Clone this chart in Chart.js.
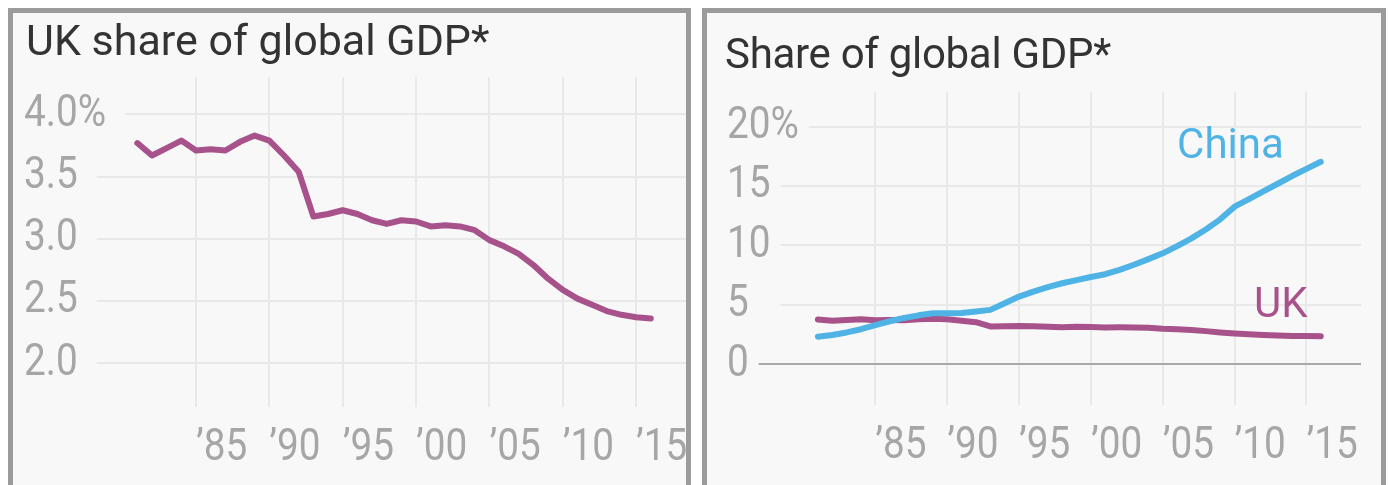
<!DOCTYPE html>
<html>
<head>
<meta charset="utf-8">
<script src="https://cdn.jsdelivr.net/npm/chart.js@4.4.1/dist/chart.umd.min.js"></script>
<style>
  html, body { margin: 0; padding: 0; background: #ffffff; }
  body { width: 1388px; height: 485px; overflow: hidden; position: relative; }
  .panel {
    position: absolute; top: 8px; height: 490px; box-sizing: border-box;
    border: 5px solid #9b9b9b; background: #f8f8f8;
  }
  #panelUK { left: 8px; width: 683px; }
  #panelCompare { left: 702px; width: 684px; }
  .panel canvas { position: absolute; left: 0; top: 0; }
  .title {
    position: absolute; margin: 0; white-space: nowrap;
    font-family: Roboto, 'Liberation Sans', sans-serif; font-weight: 400;
    color: #333333; line-height: 1;
  }
  #titleUK { left: 13px; top: 6px; font-size: 43px; }
  #titleCompare { left: 18px; top: 20px; font-size: 42px; letter-spacing: -0.3px; }
</style>
</head>
<body>
<div class="panel" id="panelUK">
  <canvas id="chartUK" width="673" height="472"></canvas>
  <div class="title" id="titleUK">UK share of global GDP*</div>
</div>
<div class="panel" id="panelCompare">
  <canvas id="chartCompare" width="674" height="472"></canvas>
  <div class="title" id="titleCompare">Share of global GDP*</div>
</div>
<script>
// Years covered by both series
const years = [1981, 1982, 1983, 1984, 1985, 1986, 1987, 1988, 1989, 1990,
               1991, 1992, 1993, 1994, 1995, 1996, 1997, 1998, 1999, 2000,
               2001, 2002, 2003, 2004, 2005, 2006, 2007, 2008, 2009, 2010,
               2011, 2012, 2013, 2014, 2015, 2016];

// Share of global GDP, percent
const ukShare = [3.77, 3.67, 3.73, 3.79, 3.71, 3.72, 3.71, 3.78, 3.83, 3.79,
                 3.67, 3.54, 3.18, 3.20, 3.23, 3.20, 3.15, 3.12, 3.15, 3.14,
                 3.10, 3.11, 3.10, 3.07, 2.99, 2.94, 2.88, 2.79, 2.68, 2.59,
                 2.52, 2.47, 2.42, 2.39, 2.37, 2.36];
const chinaShare = [2.32, 2.47, 2.68, 2.95, 3.30, 3.62, 3.90, 4.12, 4.29, 4.29,
                    4.32, 4.45, 4.58, 5.13, 5.70, 6.12, 6.50, 6.82, 7.08, 7.35,
                    7.58, 7.95, 8.38, 8.85, 9.34, 9.95, 10.60, 11.35, 12.20, 13.27,
                    13.90, 14.55, 15.20, 15.85, 16.45, 17.05];

// Axis ticks
const xTickYears = [1985, 1990, 1995, 2000, 2005, 2010, 2015];
const xTickLabels = ['\u201985', '\u201990', '\u201995', '\u201900', '\u201905', '\u201910', '\u201915'];
const ukTickValues = [2.0, 2.5, 3.0, 3.5, 4.0];
const ukTickLabels = ['2.0', '2.5', '3.0', '3.5', '4.0%'];
const cmpTickValues = [0, 5, 10, 15, 20];
const cmpTickLabels = ['0', '5', '10', '15', '20%'];

const UK_COLOR = '#a8528b';
const CHINA_COLOR = '#4fb3e6';
const TICK_COLOR = '#a6a6a6';
const GRID_COLOR = '#e9e9e9';
const TICK_FONT = "400 45px Roboto, 'Liberation Sans', sans-serif";
const TICK_SQUEEZE = 0.86;   // narrow grotesque look for axis numbers

const toPoints = (vals) => years.map((yr, i) => ({ x: yr, y: vals[i] }));

function squeezedText(ctx, text, x, y) {
  ctx.save();
  ctx.translate(x, y);
  ctx.scale(TICK_SQUEEZE, 1);
  ctx.fillText(text, 0, 0);
  ctx.restore();
}

// Axis numbers and horizontal rules: labels flush left, rules start just after them;
// year labels start at their vertical rule.
const axisText = {
  id: 'axisText',
  beforeDatasetsDraw(chart, args, opts) {
    const { ctx, chartArea, scales } = chart;
    const x = scales.x, y = scales.y;
    ctx.save();
    ctx.font = TICK_FONT;
    const widths = opts.labels.map(l => ctx.measureText(l).width * TICK_SQUEEZE);
    const top = opts.values.length - 1;
    const midW = Math.max(...widths.filter((w, i) => i > 0 && i < top));
    ctx.lineWidth = 2;
    opts.values.forEach((v, i) => {
      const py = Math.round(y.getPixelForValue(v));
      let startX;
      if (v === opts.baseline) {
        startX = opts.x + widths[i] + opts.gap;
        ctx.strokeStyle = opts.baselineColor;
      } else {
        startX = opts.x + (i === top ? widths[i] : midW) + opts.gap;
        ctx.strokeStyle = GRID_COLOR;
      }
      ctx.beginPath();
      ctx.moveTo(startX, py);
      ctx.lineTo(chartArea.right, py);
      ctx.stroke();
    });
    ctx.fillStyle = TICK_COLOR;
    ctx.textAlign = 'left';
    ctx.textBaseline = 'middle';
    opts.values.forEach((v, i) => {
      squeezedText(ctx, opts.labels[i], opts.x, y.getPixelForValue(v));
    });
    xTickYears.forEach((yr, i) => {
      squeezedText(ctx, xTickLabels[i], x.getPixelForValue(yr), chartArea.bottom + opts.xLabelOffset);
    });
    ctx.restore();
  }
};

// Series names written next to their lines
const seriesNames = {
  id: 'seriesNames',
  afterDatasetsDraw(chart, args, opts) {
    if (!opts.items) return;
    const { ctx, scales } = chart;
    ctx.save();
    ctx.font = "400 42px Roboto, 'Liberation Sans', sans-serif";
    ctx.textAlign = 'left';
    ctx.textBaseline = 'alphabetic';
    opts.items.forEach(it => {
      ctx.fillStyle = it.color;
      ctx.fillText(it.text, scales.x.getPixelForValue(it.x), scales.y.getPixelForValue(it.y));
    });
    ctx.restore();
  }
};

function xScale(min, max) {
  return {
    type: 'linear', min: min, max: max,
    afterBuildTicks(scale) { scale.ticks = xTickYears.map(v => ({ value: v })); },
    afterFit(scale) { scale.height = 70; scale.paddingLeft = 0; scale.paddingRight = 0; },
    grid: { color: GRID_COLOR, lineWidth: 2, drawTicks: false },
    border: { display: false },
    ticks: { display: false }
  };
}

const common = {
  responsive: false,
  animation: false,
  events: [],
  elements: { point: { radius: 0 }, line: { tension: 0, borderJoinStyle: 'round', borderCapStyle: 'round' } }
};
const hidden = { legend: { display: false }, tooltip: { enabled: false }, title: { display: false } };

new Chart(document.getElementById('chartUK'), {
  type: 'line',
  data: {
    datasets: [{ label: 'UK', data: toPoints(ukShare), borderColor: UK_COLOR, borderWidth: 6, fill: false }]
  },
  options: {
    ...common,
    layout: { padding: { left: 80.3, right: 0, top: 64, bottom: 8 } },
    scales: {
      x: xScale(1978, 2018.4),
      y: { type: 'linear', display: false, min: 1.649, max: 4.301 }
    },
    plugins: {
      ...hidden,
      axisText: { x: 11, gap: 19, values: ukTickValues, labels: ukTickLabels, baseline: null, xLabelOffset: 41.5 }
    }
  },
  plugins: [axisText]
});

new Chart(document.getElementById('chartCompare'), {
  type: 'line',
  data: {
    datasets: [
      { label: 'China', data: toPoints(chinaShare), borderColor: CHINA_COLOR, borderWidth: 6, fill: false },
      { label: 'UK', data: toPoints(ukShare), borderColor: UK_COLOR, borderWidth: 6, fill: false }
    ]
  },
  options: {
    ...common,
    layout: { padding: { left: 67.8, right: 20, top: 78.7, bottom: 10 } },
    scales: {
      x: xScale(1978, 2018.8),
      y: { type: 'linear', display: false, min: -3.43, max: 22.95 }
    },
    plugins: {
      ...hidden,
      axisText: { x: 20, gap: 10, values: cmpTickValues, labels: cmpTickLabels, baseline: 0, baselineColor: '#a9a9a9', xLabelOffset: 41.5 },
      seriesNames: { items: [
        { text: 'China', color: CHINA_COLOR, x: 2006.0, y: 17.37 },
        { text: 'UK', color: UK_COLOR, x: 2011.35, y: 4.0 }
      ] }
    }
  },
  plugins: [axisText, seriesNames]
});
</script>
</body>
</html>
